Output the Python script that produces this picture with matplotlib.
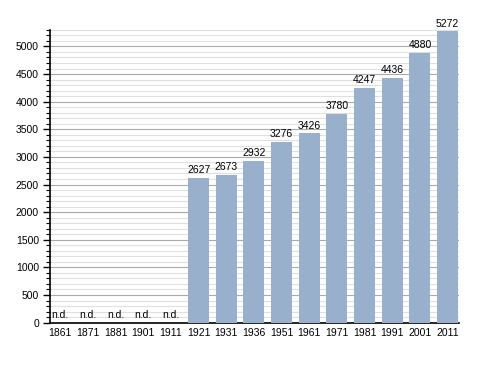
import numpy as np
import matplotlib
matplotlib.use("Agg")
import matplotlib.pyplot as plt
from matplotlib.ticker import MultipleLocator

# 数据
years = ["1861", "1871", "1881", "1901", "1911", "1921", "1931", "1936",
         "1951", "1961", "1971", "1981", "1991", "2001", "2011"]
population = [None, None, None, None, None, 2627, 2673, 2932,
              3276, 3426, 3780, 4247, 4436, 4880, 5272]

bar_color = "#98b0cb"

plt.rcParams['font.family'] = ['Liberation Sans', 'DejaVu Sans']

fig = plt.figure(figsize=(4.88, 3.73), dpi=100)
ax = fig.add_axes([0.1025, 0.135, 0.8375, 0.785])

x = np.arange(len(years))
heights = [v if v is not None else 0 for v in population]
ax.bar(x, heights, width=0.76, color=bar_color, zorder=3)

# 标签
for xi, v in zip(x, population):
    if v is None:
        ax.annotate("n.d.", (xi, 0), xytext=(0, 2), textcoords="offset points",
                    ha="center", va="bottom", fontsize=7.5)
    else:
        ax.annotate(str(v), (xi, v), xytext=(0, 2), textcoords="offset points",
                    ha="center", va="bottom", fontsize=7.5)

ax.set_xlim(-0.37, 14.4)
ax.set_ylim(0, 5300)
ax.set_xticks(x)
ax.set_xticklabels(years)
ax.tick_params(axis="x", length=0, labelsize=7.5, pad=4)

ax.yaxis.set_major_locator(MultipleLocator(500))
ax.yaxis.set_minor_locator(MultipleLocator(100))
ax.tick_params(axis="y", which="major", length=5, width=1, labelsize=7.5, pad=3)
ax.tick_params(axis="y", which="minor", length=3, width=0.8)

ax.grid(axis="y", which="major", color="#aaaaaa", linewidth=0.8, zorder=0)
ax.grid(axis="y", which="minor", color="#e0e0e0", linewidth=0.8, zorder=0)

for s in ["top", "right"]:
    ax.spines[s].set_visible(False)
ax.spines["left"].set_linewidth(1.2)
ax.spines["bottom"].set_linewidth(1.2)

fig.savefig("out.png", dpi=100)
